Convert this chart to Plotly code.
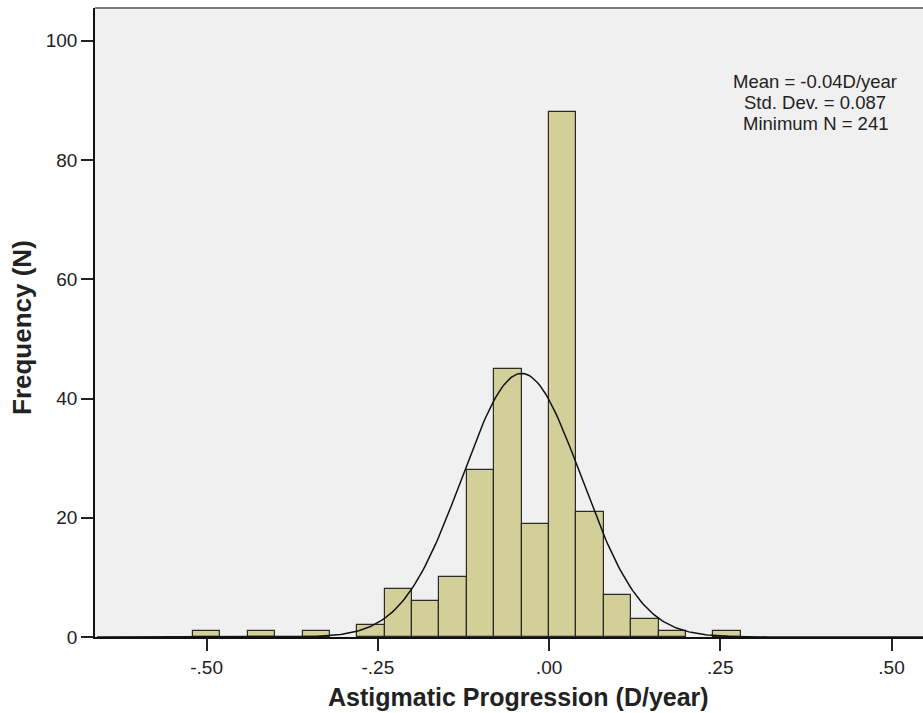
import numpy as np
import plotly.graph_objects as go

# Histogram bins (centres, D/year) and counts
bin_centers = [-0.50, -0.42, -0.34, -0.26, -0.22, -0.18, -0.14, -0.10, -0.06,
               -0.02, 0.02, 0.06, 0.10, 0.14, 0.18, 0.26]
counts = [1, 1, 1, 2, 8, 6, 10, 28, 45, 19, 88, 21, 7, 3, 1, 1]
bin_width = 0.04

# Summary statistics shown on the chart (normal curve parameters)
mean_val = -0.04
sd_val = 0.087
n_val = 241

x_tickvals = [-0.50, -0.25, 0.0, 0.25, 0.50]
x_ticktext = ["-.50", "-.25", ".00", ".25", ".50"]
y_tickvals = [0, 20, 40, 60, 80, 100]

stats_lines = ["Mean = -0.04D/year", "Std. Dev. = 0.087", "Minimum N = 241"]

fig = go.Figure()
fig.add_trace(go.Bar(
    x=bin_centers, y=counts, width=bin_width,
    marker=dict(color="#d3cf98", line=dict(color="#2a2a2a", width=1.2)),
    showlegend=False, hoverinfo="x+y"))

xs = np.linspace(-0.66, 0.55, 400)
ys = n_val * bin_width / (sd_val * np.sqrt(2 * np.pi)) * np.exp(-0.5 * ((xs - mean_val) / sd_val) ** 2)
fig.add_trace(go.Scatter(x=xs, y=ys, mode="lines",
                         line=dict(color="#111111", width=1.5),
                         showlegend=False, hoverinfo="skip"))

font_family = "Liberation Sans, Arial, sans-serif"

fig.update_layout(
    width=923, height=713,
    margin=dict(l=95, r=0, t=8, b=76),
    paper_bgcolor="white",
    plot_bgcolor="#f0f0f0",
    bargap=0,
    font=dict(family=font_family, size=19, color="#222222"),
    xaxis=dict(range=[-0.663, 0.546], tickvals=x_tickvals, ticktext=x_ticktext,
               ticks="outside", ticklen=12, tickwidth=1.5, tickcolor="#222",
               showline=True, linecolor="#111", linewidth=2,
               showgrid=False, zeroline=False,
               tickfont=dict(size=19, color="#222")),
    yaxis=dict(range=[0, 105.5], tickvals=y_tickvals,
               ticks="outside", ticklen=12, tickwidth=1.5, tickcolor="#222",
               showline=True, linecolor="#111", linewidth=1.5,
               showgrid=False, zeroline=False,
               tickfont=dict(size=19, color="#222")),
)

# top border of plot area
fig.add_shape(type="line", xref="paper", yref="paper", x0=0, x1=1, y0=1, y1=1,
              line=dict(color="#555", width=1.5))

# axis titles
fig.add_annotation(text="<b>Astigmatic Progression (D/year)</b>", xref="paper", yref="paper",
                   x=(518 - 95) / 828, y=(637 - 697) / 629, xanchor="center", yanchor="middle",
                   showarrow=False, font=dict(size=25, color="#222", family=font_family))
fig.add_annotation(text="<b>Frequency (N)</b>", xref="paper", yref="paper",
                   x=(22 - 95) / 828, y=(637 - 328) / 629, xanchor="center", yanchor="middle",
                   showarrow=False, textangle=-90,
                   font=dict(size=26, color="#222", family=font_family))

# stats text
for i, line in enumerate(stats_lines):
    fig.add_annotation(text=line, xref="paper", yref="paper",
                       x=(815 - 95) / 828, y=(637 - (81 + 21.5 * i)) / 629,
                       xanchor="center", yanchor="middle", showarrow=False,
                       font=dict(size=18.5, color="#222", family=font_family))

fig.write_html("out.html", config={"displayModeBar": False},
               post_script="document.body.style.margin='0';document.body.style.overflow='hidden';")
